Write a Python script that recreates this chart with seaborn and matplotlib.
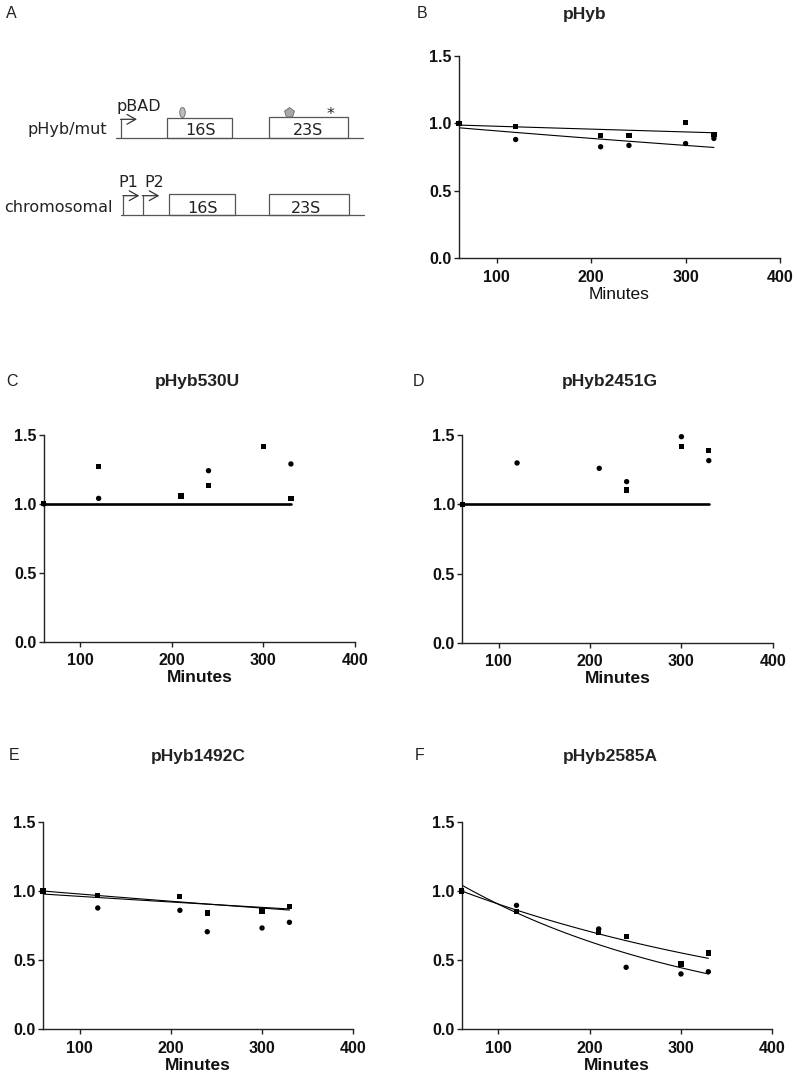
import numpy as np
import pandas as pd
import matplotlib
matplotlib.use("Agg")
import matplotlib.pyplot as plt
from matplotlib.patches import Rectangle, Ellipse, RegularPolygon
import seaborn as sns

sns.set_style("ticks")
plt.rcParams['font.family'] = ['Liberation Sans', 'DejaVu Sans']

# ---------------- data ----------------
times = [60, 120, 210, 240, 300, 330]
nan = np.nan

panel_letters = ["B", "C", "D", "E", "F"]
panel_titles = ["pHyb", "pHyb530U", "pHyb2451G", "pHyb1492C", "pHyb2585A"]

B_square = [1.0, 0.979, 0.907, 0.912, 1.007, 0.917]
B_circle = [1.0, 0.880, 0.826, 0.836, 0.850, 0.888]
B_fit_square = [0.987, 0.930]   # fitted value at 60 and 330 min
B_fit_circle = [0.967, 0.821]

C_square = [1.0, 1.270, 1.057, 1.132, 1.418, 1.040]
C_circle = [1.0, 1.040, nan, 1.241, nan, 1.290]
C_fit = [1.0, 1.0]

D_square = [1.0, nan, nan, 1.104, 1.418, 1.389]
D_circle = [1.0, 1.300, 1.261, 1.165, 1.490, 1.317]
D_fit = [1.0, 1.0]

E_square = [1.0, 0.966, 0.959, 0.841, 0.855, 0.886]
E_circle = [1.0, 0.877, 0.860, 0.705, 0.732, 0.773]
E_fit_square = [0.978, 0.870]
E_fit_circle = [1.0, 0.862]

F_square = [1.0, 0.850, 0.703, 0.671, 0.471, 0.551]
F_circle = [1.0, 0.896, 0.725, 0.447, 0.399, 0.415]
F_fit_square = [1.0, 0.512]
F_fit_circle = [1.043, 0.399]

x_ticks = [100, 200, 300, 400]
y_ticks = [0.0, 0.5, 1.0, 1.5]
y_tick_labels = ["0.0", "0.5", "1.0", "1.5"]

W, H = 797, 1080
fig = plt.figure(figsize=(W / 100, H / 100), dpi=100)


def box(l, r, t, b):
    return [l / W, 1 - b / H, (r - l) / W, (b - t) / H]


def fit_curve(ax, ends, lw):
    xs = np.linspace(times[0], times[-1], 60)
    a, b = ends
    ys = a * (b / a) ** ((xs - times[0]) / (times[-1] - times[0]))
    sns.lineplot(x=xs, y=ys, ax=ax, color="black", lw=lw, estimator=None, sort=False)


def panel(rect, sq, ci, fits, lw, letter, letter_xy, title, title_xy, xlab_bold=True):
    ax = fig.add_axes(box(*rect))
    for f in fits:
        fit_curve(ax, f, lw)
    df = pd.DataFrame({"t": times, "sq": sq, "ci": ci})
    sns.scatterplot(data=df, x="t", y="sq", ax=ax, marker="s", s=14, color="black",
                    edgecolor="none", clip_on=False, zorder=3)
    sns.scatterplot(data=df, x="t", y="ci", ax=ax, marker="o", s=15, color="black",
                    edgecolor="none", clip_on=False, zorder=3)
    ax.set_xlim(60, 400)
    ax.set_ylim(0, 1.5)
    ax.set_xticks(x_ticks)
    ax.set_yticks(y_ticks)
    ax.set_yticklabels(y_tick_labels)
    sns.despine(ax=ax)
    for s in ["left", "bottom"]:
        ax.spines[s].set_linewidth(1.0)
        ax.spines[s].set_color("#222222")
    ax.tick_params(axis="both", length=3.8, width=1.0, color="#222222", labelsize=11.5,
                   labelcolor="#111111")
    ax.tick_params(axis="y", pad=1.5)
    ax.tick_params(axis="x", pad=4.5)
    for lab in ax.get_xticklabels() + ax.get_yticklabels():
        lab.set_fontweight("bold")
    ax.set_ylabel("")
    ax.set_xlabel("Minutes", fontsize=12.5,
                  fontweight="bold" if xlab_bold else "normal", labelpad=1.5,
                  color="#111111")
    fig.text(letter_xy[0] / W, 1 - letter_xy[1] / H, letter, fontsize=11.5,
             ha="center", va="center", color="#222")
    fig.text(title_xy[0] / W, 1 - title_xy[1] / H, title, fontsize=12.5,
             fontweight="bold", ha="center", va="center", color="#222")
    return ax


panel((459, 780, 56, 258), B_square, B_circle, [B_fit_square, B_fit_circle], 0.8,
      "B", (422, 13), "pHyb", (585, 14), xlab_bold=False)
panel((43.7, 355, 435, 641.7), C_square, C_circle, [C_fit], 1.9,
      "C", (12, 381), "pHyb530U", (197, 382))
panel((462.3, 772.7, 435.3, 642.7), D_square, D_circle, [D_fit], 1.9,
      "D", (418, 381), "pHyb2451G", (610, 381))
panel((43, 353.3, 822, 1029), E_square, E_circle, [E_fit_square, E_fit_circle], 0.8,
      "E", (14, 755), "pHyb1492C", (198, 757))
panel((461.7, 772.3, 822, 1029), F_square, F_circle, [F_fit_square, F_fit_circle], 0.8,
      "F", (420, 755), "pHyb2585A", (610, 757))

# ---------------- panel A: schematic ----------------
axA = fig.add_axes(box(0, 400, 0, 230))
axA.set_xlim(0, 400)
axA.set_ylim(230, 0)
axA.axis("off")
gc = "#555555"
tc = "#222222"
dfont = dict(family="DejaVu Sans", fontsize=11.5, color=tc)
fig.text(11 / W, 1 - 13 / H, "A", fontsize=11.5, ha="center", va="center", color="#222")
arrow_kw = dict(arrowstyle="->,head_length=0.45,head_width=0.25", color="#333333", lw=0.9,
                shrinkA=0, shrinkB=0, mutation_scale=14)

# row 1: pHyb/mut
axA.plot([116, 362.7], [138.3, 138.3], color=gc, lw=0.9)
axA.plot([121, 121], [138.3, 119.3], color=gc, lw=0.9)
axA.annotate("", xy=(137, 119.3), xytext=(120.6, 119.3), arrowprops=arrow_kw)
axA.add_patch(Rectangle((167.3, 118.3), 65, 20, fill=True, facecolor="white", edgecolor=gc, lw=0.9))
axA.add_patch(Rectangle((268.7, 117.3), 79.6, 21, fill=True, facecolor="white", edgecolor=gc, lw=0.9))
axA.add_patch(Ellipse((182.5, 112.5), 5.5, 10, facecolor="#bdbdbd", edgecolor="#666", lw=0.6))
axA.add_patch(RegularPolygon((289.5, 112.8), 5, radius=5.2, orientation=np.pi,
                             facecolor="#a8a8a8", edgecolor="#666", lw=0.6))
axA.text(331, 119, "*", ha="center", va="baseline", **dfont)
axA.text(116, 111, "pBAD", ha="left", va="baseline", **dfont)
axA.text(107, 134, "pHyb/mut", ha="right", va="baseline", **dfont)
axA.text(200, 135, "16S", ha="center", va="baseline", **dfont)
axA.text(308, 135, "23S", ha="center", va="baseline", **dfont)

# row 2: chromosomal
axA.plot([121, 364], [215, 215], color=gc, lw=0.9)
for px, ax_end in [(123.3, 139.3), (142.7, 159.3)]:
    axA.plot([px, px], [215, 195.7], color=gc, lw=0.9)
    axA.annotate("", xy=(ax_end, 195.7), xytext=(px - 0.4, 195.7), arrowprops=arrow_kw)
axA.add_patch(Rectangle((169.3, 194.3), 66, 20.7, facecolor="white", edgecolor=gc, lw=0.9))
axA.add_patch(Rectangle((269.3, 194.3), 80, 20.7, facecolor="white", edgecolor=gc, lw=0.9))
axA.text(118, 187, "P1", ha="left", va="baseline", **dfont)
axA.text(144, 187, "P2", ha="left", va="baseline", **dfont)
axA.text(113, 212, "chromosomal", ha="right", va="baseline", **dfont)
axA.text(202, 213.3, "16S", ha="center", va="baseline", **dfont)
axA.text(306, 213.3, "23S", ha="center", va="baseline", **dfont)

fig.savefig("out.png", dpi=100)
